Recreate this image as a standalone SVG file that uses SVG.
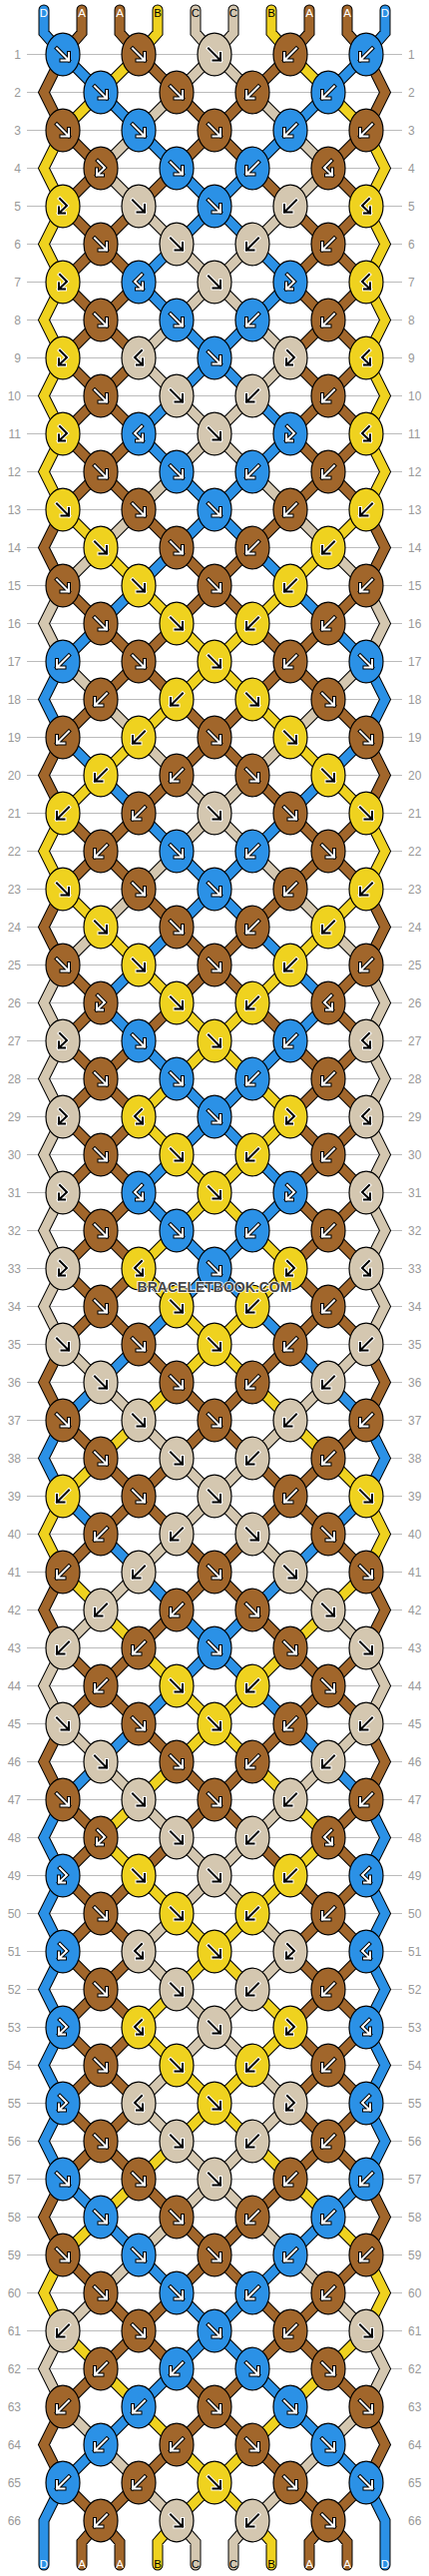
<svg xmlns="http://www.w3.org/2000/svg" width="430" height="2580" viewBox="0 0 430 2580">
<style>
.kD{fill:#2b91e6}.kA{fill:#a1662b}.kB{fill:#efd21f}.kC{fill:#d4c7b0}
#e{stroke:#000;stroke-width:1.2}
.ao{fill:none;stroke:#000;stroke-width:4;stroke-linecap:square}
.ai{fill:none;stroke:#fff;stroke-width:2;stroke-linecap:square}
.lo{fill:none;stroke:#fff;stroke-width:4;stroke-linecap:square}
.li{fill:none;stroke:#000;stroke-width:2;stroke-linecap:square}
.num{font-family:"Liberation Sans",Arial,sans-serif;font-size:12px;fill:#999}
.lab{font-family:"Liberation Sans",Arial,sans-serif;font-size:11.5px;text-anchor:middle}
</style>
<defs>
<path id="aF" d="M-6,-6L6,6M6,-1.5V6H-1.5"/>
<path id="aB" d="M6,-6L-6,6M-6,-1.5V6H1.5"/>
<path id="aG" d="M-3,-7.5L4,-0.5L-4,7M-4,1V7H2"/>
<path id="aH" d="M3,-7.5L-4,-0.5L4,7M4,1V7H-2"/>
<ellipse id="e" rx="17" ry="21.3"/>
<g id="wF"><use href="#aF" class="ao"/><use href="#aF" class="ai"/></g>
<g id="wB"><use href="#aB" class="ao"/><use href="#aB" class="ai"/></g>
<g id="wG"><use href="#aG" class="ao"/><use href="#aG" class="ai"/></g>
<g id="wH"><use href="#aH" class="ao"/><use href="#aH" class="ai"/></g>
<g id="bF"><use href="#aF" class="lo"/><use href="#aF" class="li"/></g>
<g id="bB"><use href="#aB" class="lo"/><use href="#aB" class="li"/></g>
<g id="bG"><use href="#aG" class="lo"/><use href="#aG" class="li"/></g>
<g id="bH"><use href="#aH" class="lo"/><use href="#aH" class="li"/></g>
<g id="DF"><use href="#e" class="kD"/><use href="#wF"/></g>
<g id="DB"><use href="#e" class="kD"/><use href="#wB"/></g>
<g id="DG"><use href="#e" class="kD"/><use href="#wG"/></g>
<g id="DH"><use href="#e" class="kD"/><use href="#wH"/></g>
<g id="AF"><use href="#e" class="kA"/><use href="#wF"/></g>
<g id="AB"><use href="#e" class="kA"/><use href="#wB"/></g>
<g id="AG"><use href="#e" class="kA"/><use href="#wG"/></g>
<g id="AH"><use href="#e" class="kA"/><use href="#wH"/></g>
<g id="BF"><use href="#e" class="kB"/><use href="#bF"/></g>
<g id="BB"><use href="#e" class="kB"/><use href="#bB"/></g>
<g id="BG"><use href="#e" class="kB"/><use href="#bG"/></g>
<g id="BH"><use href="#e" class="kB"/><use href="#bH"/></g>
<g id="CF"><use href="#e" class="kC"/><use href="#bF"/></g>
<g id="CB"><use href="#e" class="kC"/><use href="#bB"/></g>
<g id="CG"><use href="#e" class="kC"/><use href="#bG"/></g>
<g id="CH"><use href="#e" class="kC"/><use href="#bH"/></g>
<path id="sD" d="M44,-6.5V16.5L63,38M63,646l-19,38 19,38M63,1406l-19,38 19,38M63,1786l-19,38 19,38 -19,38 19,38 -19,38 19,38 -19,38 19,38 -19,38 19,38M63,2470L44,2508V2552.5M63,38l38,38M101,608l-38,38M63,722l38,38M101,1368l-38,38M63,1482l38,38M101,1748l-38,38M63,2166l38,38M101,2432l-38,38M101,76l38,38M139,570l-38,38M101,760l38,38M139,950l-38,38 38,38M139,1330l-38,38M101,1520l38,38M139,1710l-38,38M101,2204l38,38M139,2394l-38,38M139,114l38,38M177,228l-38,38 38,38M177,380l-38,38 38,38M177,532l-38,38M139,798l38,38M177,912l-38,38M139,1026l38,38M177,1140l-38,38 38,38M177,1292l-38,38M139,1558l38,38M177,1672l-38,38M139,2242l38,38M177,2356l-38,38M177,152l38,38 -38,38M177,304l38,38 -38,38M177,456l38,38 -38,38M177,836l38,38 -38,38M177,1064l38,38 -38,38M177,1216l38,38 -38,38M177,1596l38,38 -38,38M177,2280l38,38 -38,38"/>
<path id="sA" d="M63,38l-19,38 19,38M63,494l-19,38 19,38M63,722l-19,38 19,38M63,874l-19,38 19,38M63,1330l-19,38 19,38M63,1558l-19,38 19,38M63,1710l-19,38 19,38M63,2166l-19,38 19,38M63,2394l-19,38 19,38M82,-6.5V16.5L63,38M63,114l38,38 -38,38 38,38 -38,38 38,38 -38,38 38,38 -38,38 38,38 -38,38M63,570l38,38M101,684l-38,38M63,798l38,38 -38,38M63,950l38,38 -38,38 38,38 -38,38 38,38 -38,38 38,38 -38,38 38,38 -38,38M63,1406l38,38M101,1520l-38,38M63,1634l38,38 -38,38M63,1786l38,38 -38,38 38,38 -38,38 38,38 -38,38 38,38 -38,38 38,38 -38,38M63,2242l38,38M101,2356l-38,38M63,2470l38,38L82,2529.5V2552.5M120,-6.5V16.5L139,38M139,190l-38,38 38,38 -38,38 38,38 -38,38 38,38 -38,38 38,38M101,608l38,38 -38,38M139,798l-38,38 38,38M139,1026l-38,38 38,38 -38,38 38,38 -38,38 38,38 -38,38 38,38M101,1444l38,38 -38,38M139,1634l-38,38 38,38M139,1862l-38,38 38,38 -38,38 38,38 -38,38 38,38 -38,38 38,38M101,2280l38,38 -38,38M139,2470l-38,38L120,2529.5V2552.5M139,38l38,38M177,152l-38,38M139,494l38,38M177,608l-38,38 38,38M177,760l-38,38M139,874l38,38M177,988l-38,38M139,1330l38,38M177,1444l-38,38 38,38M177,1596l-38,38M139,1710l38,38M177,1824l-38,38M139,2166l38,38M177,2280l-38,38 38,38M177,2432l-38,38M177,76l38,38 -38,38M177,532l38,38 -38,38M177,684l38,38 -38,38M177,912l38,38 -38,38M177,1368l38,38 -38,38M177,1520l38,38 -38,38M177,1748l38,38 -38,38M177,2204l38,38 -38,38M177,2356l38,38 -38,38"/>
<path id="sB" d="M63,114l-19,38 19,38 -19,38 19,38 -19,38 19,38 -19,38 19,38 -19,38 19,38M63,798l-19,38 19,38M63,1482l-19,38 19,38M63,2242l-19,38 19,38M101,76l-38,38M63,494l38,38M101,760l-38,38M63,874l38,38M101,1444l-38,38M63,1558l38,38M101,2204l-38,38M63,2318l38,38M139,38l-38,38M101,532l38,38M139,722l-38,38M101,912l38,38M139,1406l-38,38M101,1596l38,38M139,1786l-38,38 38,38M139,2166l-38,38M101,2356l38,38M158,-6.5V16.5L139,38M139,570l38,38M177,684l-38,38M139,950l38,38M177,1064l-38,38 38,38M177,1216l-38,38 38,38M177,1368l-38,38M139,1634l38,38M177,1748l-38,38M139,1862l38,38M177,1976l-38,38 38,38M177,2128l-38,38M139,2394l38,38M177,2508L158,2529.5V2552.5M177,608l38,38 -38,38M177,988l38,38 -38,38M177,1140l38,38 -38,38M177,1292l38,38 -38,38M177,1672l38,38 -38,38M177,1900l38,38 -38,38M177,2052l38,38 -38,38M177,2432l38,38 -38,38"/>
<path id="sC" d="M63,570l-19,38 19,38M63,950l-19,38 19,38 -19,38 19,38 -19,38 19,38 -19,38 19,38 -19,38 19,38M63,1634l-19,38 19,38M63,2318l-19,38 19,38M101,532l-38,38M63,646l38,38M101,912l-38,38M63,1330l38,38M101,1596l-38,38M63,1710l38,38M101,2280l-38,38M63,2394l38,38M139,114l-38,38 38,38M139,494l-38,38M101,684l38,38M139,874l-38,38M101,1368l38,38M139,1558l-38,38M101,1748l38,38M139,2242l-38,38M101,2432l38,38M177,76l-38,38M139,190l38,38M177,304l-38,38 38,38M177,456l-38,38M139,722l38,38M177,836l-38,38M139,1406l38,38M177,1520l-38,38M139,1786l38,38M177,1900l-38,38 38,38M177,2052l-38,38 38,38M177,2204l-38,38M139,2470l38,38M196,-6.5V16.5L215,38l-38,38M177,228l38,38 -38,38M177,380l38,38 -38,38M177,760l38,38 -38,38M177,1444l38,38 -38,38M177,1824l38,38 -38,38M177,1976l38,38 -38,38M177,2128l38,38 -38,38M177,2508L196,2529.5V2552.5"/>
</defs>
<rect width="430" height="2580" fill="#fff"/>
<path id="rowlines" fill="none" stroke="#bbb" stroke-width="1" d="M27,54.5h376m-376,38h376m-376,38h376m-376,38h376m-376,38h376m-376,38h376m-376,38h376m-376,38h376m-376,38h376m-376,38h376m-376,38h376m-376,38h376m-376,38h376m-376,38h376m-376,38h376m-376,38h376m-376,38h376m-376,38h376m-376,38h376m-376,38h376m-376,38h376m-376,38h376m-376,38h376m-376,38h376m-376,38h376m-376,38h376m-376,38h376m-376,38h376m-376,38h376m-376,38h376m-376,38h376m-376,38h376m-376,38h376m-376,38h376m-376,38h376m-376,38h376m-376,38h376m-376,38h376m-376,38h376m-376,38h376m-376,38h376m-376,38h376m-376,38h376m-376,38h376m-376,38h376m-376,38h376m-376,38h376m-376,38h376m-376,38h376m-376,38h376m-376,38h376m-376,38h376m-376,38h376m-376,38h376m-376,38h376m-376,38h376m-376,38h376m-376,38h376m-376,38h376m-376,38h376m-376,38h376m-376,38h376"/>
<g id="rownumbers" class="num" transform="translate(0,20.8)">
<g text-anchor="end">
<text x="21" y="38">1</text><text x="21" y="76">2</text><text x="21" y="114">3</text><text x="21" y="152">4</text><text x="21" y="190">5</text><text x="21" y="228">6</text><text x="21" y="266">7</text><text x="21" y="304">8</text><text x="21" y="342">9</text><text x="21" y="380">10</text>
<text x="21" y="418">11</text><text x="21" y="456">12</text><text x="21" y="494">13</text><text x="21" y="532">14</text><text x="21" y="570">15</text><text x="21" y="608">16</text><text x="21" y="646">17</text><text x="21" y="684">18</text><text x="21" y="722">19</text><text x="21" y="760">20</text>
<text x="21" y="798">21</text><text x="21" y="836">22</text><text x="21" y="874">23</text><text x="21" y="912">24</text><text x="21" y="950">25</text><text x="21" y="988">26</text><text x="21" y="1026">27</text><text x="21" y="1064">28</text><text x="21" y="1102">29</text><text x="21" y="1140">30</text>
<text x="21" y="1178">31</text><text x="21" y="1216">32</text><text x="21" y="1254">33</text><text x="21" y="1292">34</text><text x="21" y="1330">35</text><text x="21" y="1368">36</text><text x="21" y="1406">37</text><text x="21" y="1444">38</text><text x="21" y="1482">39</text><text x="21" y="1520">40</text>
<text x="21" y="1558">41</text><text x="21" y="1596">42</text><text x="21" y="1634">43</text><text x="21" y="1672">44</text><text x="21" y="1710">45</text><text x="21" y="1748">46</text><text x="21" y="1786">47</text><text x="21" y="1824">48</text><text x="21" y="1862">49</text><text x="21" y="1900">50</text>
<text x="21" y="1938">51</text><text x="21" y="1976">52</text><text x="21" y="2014">53</text><text x="21" y="2052">54</text><text x="21" y="2090">55</text><text x="21" y="2128">56</text><text x="21" y="2166">57</text><text x="21" y="2204">58</text><text x="21" y="2242">59</text><text x="21" y="2280">60</text>
<text x="21" y="2318">61</text><text x="21" y="2356">62</text><text x="21" y="2394">63</text><text x="21" y="2432">64</text><text x="21" y="2470">65</text><text x="21" y="2508">66</text>
</g>
<g>
<text x="409" y="38">1</text><text x="409" y="76">2</text><text x="409" y="114">3</text><text x="409" y="152">4</text><text x="409" y="190">5</text><text x="409" y="228">6</text><text x="409" y="266">7</text><text x="409" y="304">8</text><text x="409" y="342">9</text><text x="409" y="380">10</text>
<text x="409" y="418">11</text><text x="409" y="456">12</text><text x="409" y="494">13</text><text x="409" y="532">14</text><text x="409" y="570">15</text><text x="409" y="608">16</text><text x="409" y="646">17</text><text x="409" y="684">18</text><text x="409" y="722">19</text><text x="409" y="760">20</text>
<text x="409" y="798">21</text><text x="409" y="836">22</text><text x="409" y="874">23</text><text x="409" y="912">24</text><text x="409" y="950">25</text><text x="409" y="988">26</text><text x="409" y="1026">27</text><text x="409" y="1064">28</text><text x="409" y="1102">29</text><text x="409" y="1140">30</text>
<text x="409" y="1178">31</text><text x="409" y="1216">32</text><text x="409" y="1254">33</text><text x="409" y="1292">34</text><text x="409" y="1330">35</text><text x="409" y="1368">36</text><text x="409" y="1406">37</text><text x="409" y="1444">38</text><text x="409" y="1482">39</text><text x="409" y="1520">40</text>
<text x="409" y="1558">41</text><text x="409" y="1596">42</text><text x="409" y="1634">43</text><text x="409" y="1672">44</text><text x="409" y="1710">45</text><text x="409" y="1748">46</text><text x="409" y="1786">47</text><text x="409" y="1824">48</text><text x="409" y="1862">49</text><text x="409" y="1900">50</text>
<text x="409" y="1938">51</text><text x="409" y="1976">52</text><text x="409" y="2014">53</text><text x="409" y="2052">54</text><text x="409" y="2090">55</text><text x="409" y="2128">56</text><text x="409" y="2166">57</text><text x="409" y="2204">58</text><text x="409" y="2242">59</text><text x="409" y="2280">60</text>
<text x="409" y="2318">61</text><text x="409" y="2356">62</text><text x="409" y="2394">63</text><text x="409" y="2432">64</text><text x="409" y="2470">65</text><text x="409" y="2508">66</text>
</g>
</g>
<g id="connectors" transform="translate(0,16.5)" fill="none" stroke-linecap="round">
<g id="outlineL" stroke="#000" stroke-width="11"><use href="#sD"/><use href="#sA"/><use href="#sB"/><use href="#sC"/></g>
<use href="#outlineL" transform="matrix(-1,0,0,1,430,0)"/>
<g id="colorL" stroke-width="9"><use href="#sD" stroke="#2b91e6"/><use href="#sA" stroke="#a1662b"/><use href="#sB" stroke="#efd21f"/><use href="#sC" stroke="#d4c7b0"/></g>
<use href="#colorL" transform="matrix(-1,0,0,1,430,0)"/>
</g>
<g id="labels" class="lab">
<g id="toplabels"><text x="44" y="16.7" fill="#fff">D</text><text x="82" y="16.7" fill="#fff">A</text><text x="120" y="16.7" fill="#fff">A</text><text x="158" y="16.7" fill="#000">B</text><text x="196" y="16.7" fill="#000">C</text><text x="234" y="16.7" fill="#000">C</text><text x="272" y="16.7" fill="#000">B</text><text x="310" y="16.7" fill="#fff">A</text><text x="348" y="16.7" fill="#fff">A</text><text x="386" y="16.7" fill="#fff">D</text></g>
<g id="bottomlabels"><text x="44" y="2571.7" fill="#fff">D</text><text x="82" y="2571.7" fill="#fff">A</text><text x="120" y="2571.7" fill="#fff">A</text><text x="158" y="2571.7" fill="#000">B</text><text x="196" y="2571.7" fill="#000">C</text><text x="234" y="2571.7" fill="#000">C</text><text x="272" y="2571.7" fill="#000">B</text><text x="310" y="2571.7" fill="#fff">A</text><text x="348" y="2571.7" fill="#fff">A</text><text x="386" y="2571.7" fill="#fff">D</text></g>
</g>
<g id="knots" transform="translate(0,16.5)">
<g id="n1-1"><use href="#DF" x="63" y="38"/></g><g id="n1-2"><use href="#AF" x="139" y="38"/></g><g id="n1-3"><use href="#CF" x="215" y="38"/></g><g id="n1-4"><use href="#AB" x="291" y="38"/></g><g id="n1-5"><use href="#DB" x="367" y="38"/></g>
<g id="n2-1"><use href="#DF" x="101" y="76"/></g><g id="n2-2"><use href="#AF" x="177" y="76"/></g><g id="n2-3"><use href="#AB" x="253" y="76"/></g><g id="n2-4"><use href="#DB" x="329" y="76"/></g>
<g id="n3-1"><use href="#AF" x="63" y="114"/></g><g id="n3-2"><use href="#DF" x="139" y="114"/></g><g id="n3-3"><use href="#AF" x="215" y="114"/></g><g id="n3-4"><use href="#DB" x="291" y="114"/></g><g id="n3-5"><use href="#AB" x="367" y="114"/></g>
<g id="n4-1"><use href="#AG" x="101" y="152"/></g><g id="n4-2"><use href="#DF" x="177" y="152"/></g><g id="n4-3"><use href="#DB" x="253" y="152"/></g><g id="n4-4"><use href="#AH" x="329" y="152"/></g>
<g id="n5-1"><use href="#BG" x="63" y="190"/></g><g id="n5-2"><use href="#CF" x="139" y="190"/></g><g id="n5-3"><use href="#DF" x="215" y="190"/></g><g id="n5-4"><use href="#CB" x="291" y="190"/></g><g id="n5-5"><use href="#BH" x="367" y="190"/></g>
<g id="n6-1"><use href="#AF" x="101" y="228"/></g><g id="n6-2"><use href="#CF" x="177" y="228"/></g><g id="n6-3"><use href="#CB" x="253" y="228"/></g><g id="n6-4"><use href="#AB" x="329" y="228"/></g>
<g id="n7-1"><use href="#BG" x="63" y="266"/></g><g id="n7-2"><use href="#DH" x="139" y="266"/></g><g id="n7-3"><use href="#CF" x="215" y="266"/></g><g id="n7-4"><use href="#DG" x="291" y="266"/></g><g id="n7-5"><use href="#BH" x="367" y="266"/></g>
<g id="n8-1"><use href="#AF" x="101" y="304"/></g><g id="n8-2"><use href="#DF" x="177" y="304"/></g><g id="n8-3"><use href="#DB" x="253" y="304"/></g><g id="n8-4"><use href="#AB" x="329" y="304"/></g>
<g id="n9-1"><use href="#BG" x="63" y="342"/></g><g id="n9-2"><use href="#CH" x="139" y="342"/></g><g id="n9-3"><use href="#DF" x="215" y="342"/></g><g id="n9-4"><use href="#CG" x="291" y="342"/></g><g id="n9-5"><use href="#BH" x="367" y="342"/></g>
<g id="n10-1"><use href="#AF" x="101" y="380"/></g><g id="n10-2"><use href="#CF" x="177" y="380"/></g><g id="n10-3"><use href="#CB" x="253" y="380"/></g><g id="n10-4"><use href="#AB" x="329" y="380"/></g>
<g id="n11-1"><use href="#BG" x="63" y="418"/></g><g id="n11-2"><use href="#DH" x="139" y="418"/></g><g id="n11-3"><use href="#CF" x="215" y="418"/></g><g id="n11-4"><use href="#DG" x="291" y="418"/></g><g id="n11-5"><use href="#BH" x="367" y="418"/></g>
<g id="n12-1"><use href="#AF" x="101" y="456"/></g><g id="n12-2"><use href="#DF" x="177" y="456"/></g><g id="n12-3"><use href="#DB" x="253" y="456"/></g><g id="n12-4"><use href="#AB" x="329" y="456"/></g>
<g id="n13-1"><use href="#BF" x="63" y="494"/></g><g id="n13-2"><use href="#AF" x="139" y="494"/></g><g id="n13-3"><use href="#DF" x="215" y="494"/></g><g id="n13-4"><use href="#AB" x="291" y="494"/></g><g id="n13-5"><use href="#BB" x="367" y="494"/></g>
<g id="n14-1"><use href="#BF" x="101" y="532"/></g><g id="n14-2"><use href="#AF" x="177" y="532"/></g><g id="n14-3"><use href="#AB" x="253" y="532"/></g><g id="n14-4"><use href="#BB" x="329" y="532"/></g>
<g id="n15-1"><use href="#AF" x="63" y="570"/></g><g id="n15-2"><use href="#BF" x="139" y="570"/></g><g id="n15-3"><use href="#AF" x="215" y="570"/></g><g id="n15-4"><use href="#BB" x="291" y="570"/></g><g id="n15-5"><use href="#AB" x="367" y="570"/></g>
<g id="n16-1"><use href="#AF" x="101" y="608"/></g><g id="n16-2"><use href="#BF" x="177" y="608"/></g><g id="n16-3"><use href="#BB" x="253" y="608"/></g><g id="n16-4"><use href="#AB" x="329" y="608"/></g>
<g id="n17-1"><use href="#DB" x="63" y="646"/></g><g id="n17-2"><use href="#AF" x="139" y="646"/></g><g id="n17-3"><use href="#BF" x="215" y="646"/></g><g id="n17-4"><use href="#AB" x="291" y="646"/></g><g id="n17-5"><use href="#DF" x="367" y="646"/></g>
<g id="n18-1"><use href="#AB" x="101" y="684"/></g><g id="n18-2"><use href="#BB" x="177" y="684"/></g><g id="n18-3"><use href="#BF" x="253" y="684"/></g><g id="n18-4"><use href="#AF" x="329" y="684"/></g>
<g id="n19-1"><use href="#AB" x="63" y="722"/></g><g id="n19-2"><use href="#BB" x="139" y="722"/></g><g id="n19-3"><use href="#AF" x="215" y="722"/></g><g id="n19-4"><use href="#BF" x="291" y="722"/></g><g id="n19-5"><use href="#AF" x="367" y="722"/></g>
<g id="n20-1"><use href="#BB" x="101" y="760"/></g><g id="n20-2"><use href="#AB" x="177" y="760"/></g><g id="n20-3"><use href="#AF" x="253" y="760"/></g><g id="n20-4"><use href="#BF" x="329" y="760"/></g>
<g id="n21-1"><use href="#BB" x="63" y="798"/></g><g id="n21-2"><use href="#AB" x="139" y="798"/></g><g id="n21-3"><use href="#CF" x="215" y="798"/></g><g id="n21-4"><use href="#AF" x="291" y="798"/></g><g id="n21-5"><use href="#BF" x="367" y="798"/></g>
<g id="n22-1"><use href="#AB" x="101" y="836"/></g><g id="n22-2"><use href="#DF" x="177" y="836"/></g><g id="n22-3"><use href="#DB" x="253" y="836"/></g><g id="n22-4"><use href="#AF" x="329" y="836"/></g>
<g id="n23-1"><use href="#BF" x="63" y="874"/></g><g id="n23-2"><use href="#AF" x="139" y="874"/></g><g id="n23-3"><use href="#DF" x="215" y="874"/></g><g id="n23-4"><use href="#AB" x="291" y="874"/></g><g id="n23-5"><use href="#BB" x="367" y="874"/></g>
<g id="n24-1"><use href="#BF" x="101" y="912"/></g><g id="n24-2"><use href="#AF" x="177" y="912"/></g><g id="n24-3"><use href="#AB" x="253" y="912"/></g><g id="n24-4"><use href="#BB" x="329" y="912"/></g>
<g id="n25-1"><use href="#AF" x="63" y="950"/></g><g id="n25-2"><use href="#BF" x="139" y="950"/></g><g id="n25-3"><use href="#AF" x="215" y="950"/></g><g id="n25-4"><use href="#BB" x="291" y="950"/></g><g id="n25-5"><use href="#AB" x="367" y="950"/></g>
<g id="n26-1"><use href="#AG" x="101" y="988"/></g><g id="n26-2"><use href="#BF" x="177" y="988"/></g><g id="n26-3"><use href="#BB" x="253" y="988"/></g><g id="n26-4"><use href="#AH" x="329" y="988"/></g>
<g id="n27-1"><use href="#CG" x="63" y="1026"/></g><g id="n27-2"><use href="#DF" x="139" y="1026"/></g><g id="n27-3"><use href="#BF" x="215" y="1026"/></g><g id="n27-4"><use href="#DB" x="291" y="1026"/></g><g id="n27-5"><use href="#CH" x="367" y="1026"/></g>
<g id="n28-1"><use href="#AF" x="101" y="1064"/></g><g id="n28-2"><use href="#DF" x="177" y="1064"/></g><g id="n28-3"><use href="#DB" x="253" y="1064"/></g><g id="n28-4"><use href="#AB" x="329" y="1064"/></g>
<g id="n29-1"><use href="#CG" x="63" y="1102"/></g><g id="n29-2"><use href="#BH" x="139" y="1102"/></g><g id="n29-3"><use href="#DF" x="215" y="1102"/></g><g id="n29-4"><use href="#BG" x="291" y="1102"/></g><g id="n29-5"><use href="#CH" x="367" y="1102"/></g>
<g id="n30-1"><use href="#AF" x="101" y="1140"/></g><g id="n30-2"><use href="#BF" x="177" y="1140"/></g><g id="n30-3"><use href="#BB" x="253" y="1140"/></g><g id="n30-4"><use href="#AB" x="329" y="1140"/></g>
<g id="n31-1"><use href="#CG" x="63" y="1178"/></g><g id="n31-2"><use href="#DH" x="139" y="1178"/></g><g id="n31-3"><use href="#BF" x="215" y="1178"/></g><g id="n31-4"><use href="#DG" x="291" y="1178"/></g><g id="n31-5"><use href="#CH" x="367" y="1178"/></g>
<g id="n32-1"><use href="#AF" x="101" y="1216"/></g><g id="n32-2"><use href="#DF" x="177" y="1216"/></g><g id="n32-3"><use href="#DB" x="253" y="1216"/></g><g id="n32-4"><use href="#AB" x="329" y="1216"/></g>
<g id="n33-1"><use href="#CG" x="63" y="1254"/></g><g id="n33-2"><use href="#BH" x="139" y="1254"/></g><g id="n33-3"><use href="#DF" x="215" y="1254"/></g><g id="n33-4"><use href="#BG" x="291" y="1254"/></g><g id="n33-5"><use href="#CH" x="367" y="1254"/></g>
<g id="n34-1"><use href="#AF" x="101" y="1292"/></g><g id="n34-2"><use href="#BF" x="177" y="1292"/></g><g id="n34-3"><use href="#BB" x="253" y="1292"/></g><g id="n34-4"><use href="#AB" x="329" y="1292"/></g>
<g id="n35-1"><use href="#CF" x="63" y="1330"/></g><g id="n35-2"><use href="#AF" x="139" y="1330"/></g><g id="n35-3"><use href="#BF" x="215" y="1330"/></g><g id="n35-4"><use href="#AB" x="291" y="1330"/></g><g id="n35-5"><use href="#CB" x="367" y="1330"/></g>
<g id="n36-1"><use href="#CF" x="101" y="1368"/></g><g id="n36-2"><use href="#AF" x="177" y="1368"/></g><g id="n36-3"><use href="#AB" x="253" y="1368"/></g><g id="n36-4"><use href="#CB" x="329" y="1368"/></g>
<g id="n37-1"><use href="#AF" x="63" y="1406"/></g><g id="n37-2"><use href="#CF" x="139" y="1406"/></g><g id="n37-3"><use href="#AF" x="215" y="1406"/></g><g id="n37-4"><use href="#CB" x="291" y="1406"/></g><g id="n37-5"><use href="#AB" x="367" y="1406"/></g>
<g id="n38-1"><use href="#AF" x="101" y="1444"/></g><g id="n38-2"><use href="#CF" x="177" y="1444"/></g><g id="n38-3"><use href="#CB" x="253" y="1444"/></g><g id="n38-4"><use href="#AB" x="329" y="1444"/></g>
<g id="n39-1"><use href="#BB" x="63" y="1482"/></g><g id="n39-2"><use href="#AF" x="139" y="1482"/></g><g id="n39-3"><use href="#CF" x="215" y="1482"/></g><g id="n39-4"><use href="#AB" x="291" y="1482"/></g><g id="n39-5"><use href="#BF" x="367" y="1482"/></g>
<g id="n40-1"><use href="#AB" x="101" y="1520"/></g><g id="n40-2"><use href="#CB" x="177" y="1520"/></g><g id="n40-3"><use href="#CF" x="253" y="1520"/></g><g id="n40-4"><use href="#AF" x="329" y="1520"/></g>
<g id="n41-1"><use href="#AB" x="63" y="1558"/></g><g id="n41-2"><use href="#CB" x="139" y="1558"/></g><g id="n41-3"><use href="#AF" x="215" y="1558"/></g><g id="n41-4"><use href="#CF" x="291" y="1558"/></g><g id="n41-5"><use href="#AF" x="367" y="1558"/></g>
<g id="n42-1"><use href="#CB" x="101" y="1596"/></g><g id="n42-2"><use href="#AB" x="177" y="1596"/></g><g id="n42-3"><use href="#AF" x="253" y="1596"/></g><g id="n42-4"><use href="#CF" x="329" y="1596"/></g>
<g id="n43-1"><use href="#CB" x="63" y="1634"/></g><g id="n43-2"><use href="#AB" x="139" y="1634"/></g><g id="n43-3"><use href="#DF" x="215" y="1634"/></g><g id="n43-4"><use href="#AF" x="291" y="1634"/></g><g id="n43-5"><use href="#CF" x="367" y="1634"/></g>
<g id="n44-1"><use href="#AB" x="101" y="1672"/></g><g id="n44-2"><use href="#BF" x="177" y="1672"/></g><g id="n44-3"><use href="#BB" x="253" y="1672"/></g><g id="n44-4"><use href="#AF" x="329" y="1672"/></g>
<g id="n45-1"><use href="#CF" x="63" y="1710"/></g><g id="n45-2"><use href="#AF" x="139" y="1710"/></g><g id="n45-3"><use href="#BF" x="215" y="1710"/></g><g id="n45-4"><use href="#AB" x="291" y="1710"/></g><g id="n45-5"><use href="#CB" x="367" y="1710"/></g>
<g id="n46-1"><use href="#CF" x="101" y="1748"/></g><g id="n46-2"><use href="#AF" x="177" y="1748"/></g><g id="n46-3"><use href="#AB" x="253" y="1748"/></g><g id="n46-4"><use href="#CB" x="329" y="1748"/></g>
<g id="n47-1"><use href="#AF" x="63" y="1786"/></g><g id="n47-2"><use href="#CF" x="139" y="1786"/></g><g id="n47-3"><use href="#AF" x="215" y="1786"/></g><g id="n47-4"><use href="#CB" x="291" y="1786"/></g><g id="n47-5"><use href="#AB" x="367" y="1786"/></g>
<g id="n48-1"><use href="#AG" x="101" y="1824"/></g><g id="n48-2"><use href="#CF" x="177" y="1824"/></g><g id="n48-3"><use href="#CB" x="253" y="1824"/></g><g id="n48-4"><use href="#AH" x="329" y="1824"/></g>
<g id="n49-1"><use href="#DG" x="63" y="1862"/></g><g id="n49-2"><use href="#BF" x="139" y="1862"/></g><g id="n49-3"><use href="#CF" x="215" y="1862"/></g><g id="n49-4"><use href="#BB" x="291" y="1862"/></g><g id="n49-5"><use href="#DH" x="367" y="1862"/></g>
<g id="n50-1"><use href="#AF" x="101" y="1900"/></g><g id="n50-2"><use href="#BF" x="177" y="1900"/></g><g id="n50-3"><use href="#BB" x="253" y="1900"/></g><g id="n50-4"><use href="#AB" x="329" y="1900"/></g>
<g id="n51-1"><use href="#DG" x="63" y="1938"/></g><g id="n51-2"><use href="#CH" x="139" y="1938"/></g><g id="n51-3"><use href="#BF" x="215" y="1938"/></g><g id="n51-4"><use href="#CG" x="291" y="1938"/></g><g id="n51-5"><use href="#DH" x="367" y="1938"/></g>
<g id="n52-1"><use href="#AF" x="101" y="1976"/></g><g id="n52-2"><use href="#CF" x="177" y="1976"/></g><g id="n52-3"><use href="#CB" x="253" y="1976"/></g><g id="n52-4"><use href="#AB" x="329" y="1976"/></g>
<g id="n53-1"><use href="#DG" x="63" y="2014"/></g><g id="n53-2"><use href="#BH" x="139" y="2014"/></g><g id="n53-3"><use href="#CF" x="215" y="2014"/></g><g id="n53-4"><use href="#BG" x="291" y="2014"/></g><g id="n53-5"><use href="#DH" x="367" y="2014"/></g>
<g id="n54-1"><use href="#AF" x="101" y="2052"/></g><g id="n54-2"><use href="#BF" x="177" y="2052"/></g><g id="n54-3"><use href="#BB" x="253" y="2052"/></g><g id="n54-4"><use href="#AB" x="329" y="2052"/></g>
<g id="n55-1"><use href="#DG" x="63" y="2090"/></g><g id="n55-2"><use href="#CH" x="139" y="2090"/></g><g id="n55-3"><use href="#BF" x="215" y="2090"/></g><g id="n55-4"><use href="#CG" x="291" y="2090"/></g><g id="n55-5"><use href="#DH" x="367" y="2090"/></g>
<g id="n56-1"><use href="#AF" x="101" y="2128"/></g><g id="n56-2"><use href="#CF" x="177" y="2128"/></g><g id="n56-3"><use href="#CB" x="253" y="2128"/></g><g id="n56-4"><use href="#AB" x="329" y="2128"/></g>
<g id="n57-1"><use href="#DF" x="63" y="2166"/></g><g id="n57-2"><use href="#AF" x="139" y="2166"/></g><g id="n57-3"><use href="#CF" x="215" y="2166"/></g><g id="n57-4"><use href="#AB" x="291" y="2166"/></g><g id="n57-5"><use href="#DB" x="367" y="2166"/></g>
<g id="n58-1"><use href="#DF" x="101" y="2204"/></g><g id="n58-2"><use href="#AF" x="177" y="2204"/></g><g id="n58-3"><use href="#AB" x="253" y="2204"/></g><g id="n58-4"><use href="#DB" x="329" y="2204"/></g>
<g id="n59-1"><use href="#AF" x="63" y="2242"/></g><g id="n59-2"><use href="#DF" x="139" y="2242"/></g><g id="n59-3"><use href="#AF" x="215" y="2242"/></g><g id="n59-4"><use href="#DB" x="291" y="2242"/></g><g id="n59-5"><use href="#AB" x="367" y="2242"/></g>
<g id="n60-1"><use href="#AF" x="101" y="2280"/></g><g id="n60-2"><use href="#DF" x="177" y="2280"/></g><g id="n60-3"><use href="#DB" x="253" y="2280"/></g><g id="n60-4"><use href="#AB" x="329" y="2280"/></g>
<g id="n61-1"><use href="#CB" x="63" y="2318"/></g><g id="n61-2"><use href="#AF" x="139" y="2318"/></g><g id="n61-3"><use href="#DF" x="215" y="2318"/></g><g id="n61-4"><use href="#AB" x="291" y="2318"/></g><g id="n61-5"><use href="#CF" x="367" y="2318"/></g>
<g id="n62-1"><use href="#AB" x="101" y="2356"/></g><g id="n62-2"><use href="#DB" x="177" y="2356"/></g><g id="n62-3"><use href="#DF" x="253" y="2356"/></g><g id="n62-4"><use href="#AF" x="329" y="2356"/></g>
<g id="n63-1"><use href="#AB" x="63" y="2394"/></g><g id="n63-2"><use href="#DB" x="139" y="2394"/></g><g id="n63-3"><use href="#AF" x="215" y="2394"/></g><g id="n63-4"><use href="#DF" x="291" y="2394"/></g><g id="n63-5"><use href="#AF" x="367" y="2394"/></g>
<g id="n64-1"><use href="#DB" x="101" y="2432"/></g><g id="n64-2"><use href="#AB" x="177" y="2432"/></g><g id="n64-3"><use href="#AF" x="253" y="2432"/></g><g id="n64-4"><use href="#DF" x="329" y="2432"/></g>
<g id="n65-1"><use href="#DB" x="63" y="2470"/></g><g id="n65-2"><use href="#AB" x="139" y="2470"/></g><g id="n65-3"><use href="#BF" x="215" y="2470"/></g><g id="n65-4"><use href="#AF" x="291" y="2470"/></g><g id="n65-5"><use href="#DF" x="367" y="2470"/></g>
<g id="n66-1"><use href="#AB" x="101" y="2508"/></g><g id="n66-2"><use href="#CF" x="177" y="2508"/></g><g id="n66-3"><use href="#CB" x="253" y="2508"/></g><g id="n66-4"><use href="#AF" x="329" y="2508"/></g>
</g>
<text id="watermark" x="215" y="1293.5" text-anchor="middle" font-family="'Liberation Sans',Arial,sans-serif" font-weight="bold" font-size="14" fill="#444" stroke="#fff" stroke-width="1.5" paint-order="stroke">BRACELETBOOK.COM</text>
</svg>
